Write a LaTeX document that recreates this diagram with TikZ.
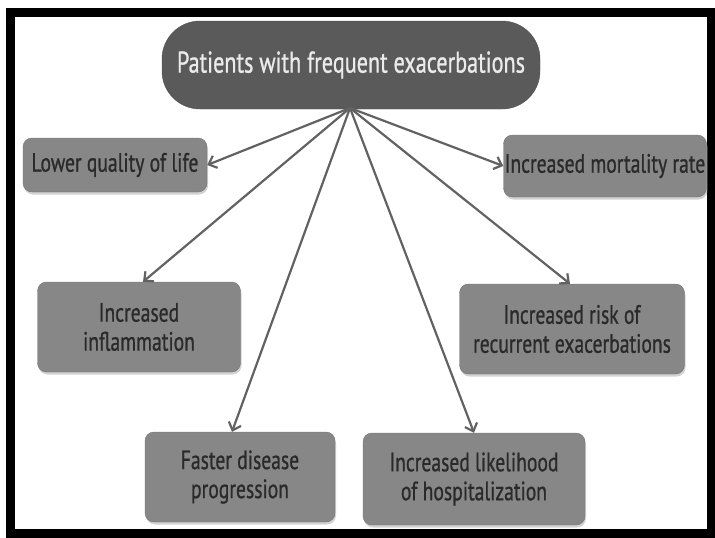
\documentclass[tikz,border=0pt]{standalone}
\usepackage{fontspec}
\setmainfont{PT Sans}
\newfontfamily\narrowfont[FakeStretch=0.74,FakeBold=0.8]{PT Sans}
\usetikzlibrary{arrows.meta,shadows}
\definecolor{pillgray}{HTML}{5A5A5A}
\definecolor{boxgray}{HTML}{878787}
\definecolor{boxline}{HTML}{747474}
\definecolor{arrowgray}{HTML}{626262}
\definecolor{textgray}{HTML}{2A2A2A}
\begin{document}
\begin{tikzpicture}[
		x=1pt,
		y=-1pt,
		headnode/.style={
				draw=pillgray!90!black,
				fill=pillgray,
				rounded corners=38pt,
				text=white!92!black,
				font=\narrowfont\fontsize{30}{34}\selectfont,
				minimum width=378pt,
				minimum height=88pt,
				inner sep=0pt
			},
		effect/.style={
				draw=boxline,
				fill=boxgray,
				rounded corners=9pt,
				text=textgray,
				align=center,
				font=\narrowfont\fontsize{26.5}{29}\selectfont,
				inner sep=1pt,
				drop shadow={shadow xshift=1pt, shadow yshift=-2.5pt, fill=black!35}
			},
		link/.style={
				draw=arrowgray,
				line width=2.2pt,
				-{Straight Barb[length=7pt,width=13pt,line width=2.2pt]}
			},
	]
	\useasboundingbox (0,0) rectangle (715,538);
	\draw [line width=9pt] (10,12.5) rectangle (711,533);
	\node [headnode] (patients) at (351,65) {Patients with frequent exacerbations};
	\coordinate (hub) at (350,108);
	\node [effect, minimum width=184pt, minimum height=54pt] (lowerqol) at (115,165) {Lower quality of life};
	\node [effect, minimum width=203pt, minimum height=62pt] (mortality) at (605,166) {Increased mortality rate};
	\node [effect, minimum width=203pt, minimum height=90pt] (inflam) at (139,327) {Increased\\inflammation};
	\node [effect, minimum width=225pt, minimum height=90pt] (recurrent) at (572,329) {Increased risk of\\recurrent exacerbations};
	\node [effect, minimum width=190pt, minimum height=90pt] (faster) at (240,477) {Faster disease\\progression};
	\node [effect, minimum width=222pt, minimum height=92pt] (hospital) at (474,479) {Increased likelihood\\of hospitalization};
	\draw [link] (hub) -- (lowerqol.east);
	\draw [link] (hub) -- (mortality.west);
	\draw [link] (hub) -- ([xshift=4pt]inflam.north);
	\draw [link] (hub) -- ([xshift=-2pt]recurrent.north);
	\draw [link] (hub) -- ([xshift=-8pt]faster.north);
	\draw [link] (hub) -- (hospital.north);
\end{tikzpicture}
\end{document}
